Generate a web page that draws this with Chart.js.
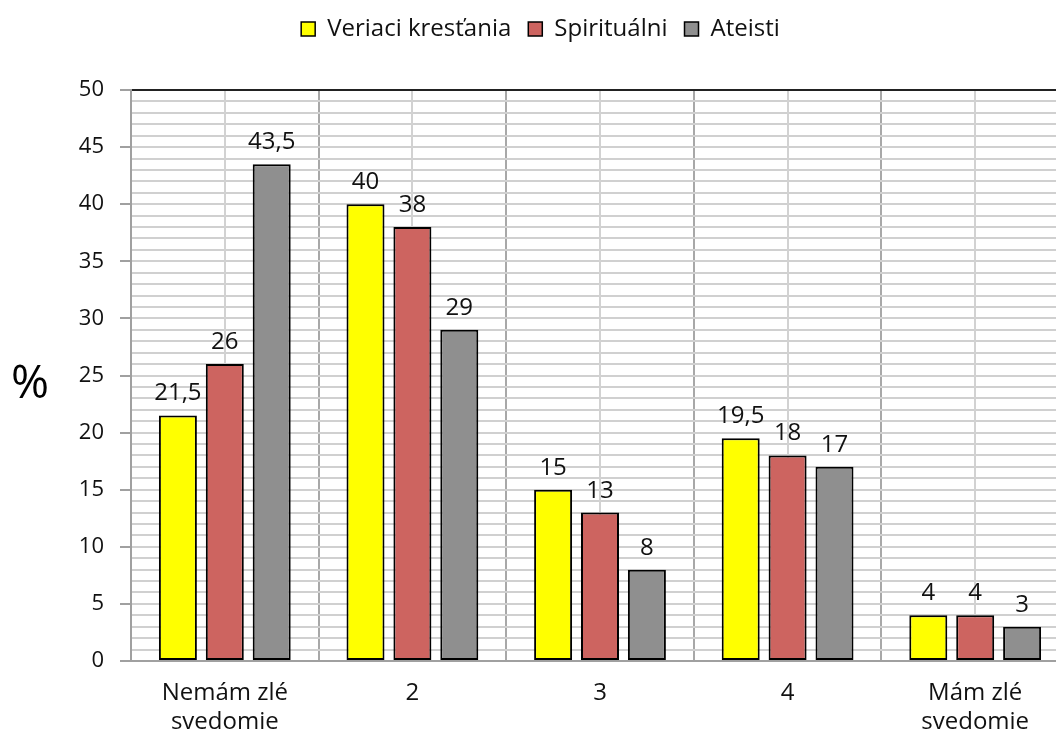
<!DOCTYPE html>
<html>
<head>
<meta charset="utf-8">
<script src="https://cdn.jsdelivr.net/npm/chart.js@4/dist/chart.umd.min.js"></script>
<style>
html,body{margin:0;padding:0;background:#fff;overflow:hidden;}
#wrap{width:1080px;height:740px;}
</style>
</head>
<body>
<div id="wrap"><canvas id="c" width="1080" height="740"></canvas></div>
<script>
const categories = [["Nemám zlé","svedomie"], "2", "3", "4", ["Mám zlé","svedomie"]];
const seriesNames = ["Veriaci kresťania", "Spirituálni", "Ateisti"];
const veriaci = [21.5, 40, 15, 19.5, 4];
const spiritualni = [26, 38, 13, 18, 4];
const ateisti = [43.5, 29, 8, 17, 3];
const yTickLabels = [0, 5, 10, 15, 20, 25, 30, 35, 40, 45, 50];
const yAxisTitle = "%";
const colors = ["#FFFF00", "#CD6460", "#8F8F8F"];

const FONT = "'Open Sans', 'DejaVu Sans', sans-serif";

const centerLines = {
  id: 'centerLines',
  beforeDatasetsDraw(chart) {
    const x = chart.scales.x, area = chart.chartArea, ctx = chart.ctx;
    ctx.save();
    ctx.strokeStyle = '#d2d2d2';
    ctx.lineWidth = 2;
    for (let i = 0; i < categories.length; i++) {
      const px = Math.round(x.getPixelForValue(i));
      ctx.beginPath();
      ctx.moveTo(px, area.top + 1);
      ctx.lineTo(px, area.bottom - 1);
      ctx.stroke();
    }
    ctx.restore();
  }
};

const valueLabels = {
  id: 'valueLabels',
  afterDatasetsDraw(chart) {
    const ctx = chart.ctx;
    ctx.save();
    ctx.font = "24px " + FONT;
    ctx.fillStyle = '#111';
    ctx.textAlign = 'center';
    ctx.textBaseline = 'alphabetic';
    chart.data.datasets.forEach((ds, di) => {
      const meta = chart.getDatasetMeta(di);
      meta.data.forEach((bar, i) => {
        const v = ds.data[i];
        ctx.fillText(String(v).replace('.', ','), bar.x, bar.y - 15);
      });
    });
    const area = chart.chartArea;
    ctx.font = "46px " + FONT;
    ctx.fillStyle = '#000';
    ctx.textBaseline = 'middle';
    ctx.fillText(yAxisTitle, 30, (area.top + area.bottom) / 2 + 9);
    ctx.restore();
  }
};

new Chart(document.getElementById('c'), {
  type: 'bar',
  data: {
    labels: categories,
    datasets: [
      { label: seriesNames[0], data: veriaci, backgroundColor: colors[0] },
      { label: seriesNames[1], data: spiritualni, backgroundColor: colors[1] },
      { label: seriesNames[2], data: ateisti, backgroundColor: colors[2] }
    ].map(d => Object.assign(d, { borderColor: '#000', borderWidth: 2, borderSkipped: false,
      categoryPercentage: 0.75, barPercentage: 0.81 }))
  },
  options: {
    responsive: false,
    animation: false,
    devicePixelRatio: 1,
    layout: { padding: { left: 12, right: 11, top: 0, bottom: 0 } },
    plugins: {
      legend: {
        position: 'top',
        weight: 3000,
        labels: {
          font: { family: FONT, size: 24 },
          color: '#111',
          boxWidth: 14,
          boxHeight: 14,
          padding: 17,
          generateLabels(chart) {
            return chart.data.datasets.map((ds, i) => ({
              text: ds.label, fillStyle: ds.backgroundColor, strokeStyle: '#000',
              lineWidth: 1.5, hidden: false, datasetIndex: i, fontColor: '#111'
            }));
          }
        }
      },
      title: {
        display: true,
        text: '',
        weight: 500,
        font: { size: 10 },
        padding: { top: 0, bottom: 27 }
      },
      tooltip: { enabled: false }
    },
    scales: {
      x: {
        offset: true,
        grid: { offset: true, color: '#a8a8a8', lineWidth: 2, drawTicks: false },
        border: { color: '#a0a0a0', width: 2 },
        ticks: { font: { family: FONT, size: 24 }, color: '#111', padding: 18, maxRotation: 0 },
        afterFit(scale) { scale.height = 79; }
      },
      y: {
        min: 0, max: 50,
        ticks: {
          stepSize: 1,
          autoSkip: false,
          font: { family: FONT, size: 22 },
          color: '#111',
          padding: 16,
          callback(v) { return yTickLabels.includes(v) ? String(v) : ''; }
        },
        grid: {
          color: ctx => ctx.tick && ctx.tick.value === 50 ? '#222' : '#d0d0d0',
          lineWidth: 2,
          tickLength: 11,
          tickColor: ctx => ctx.tick && yTickLabels.includes(ctx.tick.value) ? '#a0a0a0' : 'rgba(0,0,0,0)'
        },
        border: { color: '#a0a0a0', width: 2 },
        afterFit(scale) { scale.width = 119; }
      }
    }
  },
  plugins: [centerLines, valueLabels]
});
</script>
</body>
</html>
